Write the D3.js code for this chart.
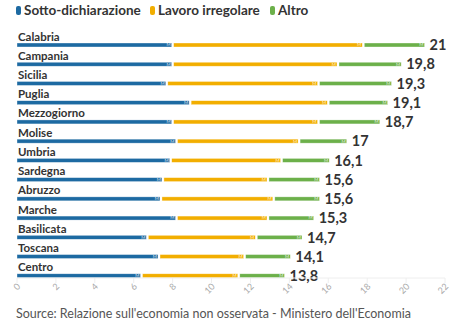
<!DOCTYPE html>
<html>
<head>
<meta charset="utf-8">
<script src="https://cdn.jsdelivr.net/npm/d3@7"></script>
<style>
  body { margin: 0; background: #fff; }
  svg { font-family: Lato, "Noto Sans", sans-serif; }
</style>
</head>
<body>
<div id="chart"></div>
<script>
// Regions, top to bottom
var regions = ['Calabria', 'Campania', 'Sicilia', 'Puglia', 'Mezzogiorno', 'Molise',
    'Umbria', 'Sardegna', 'Abruzzo', 'Marche', 'Basilicata', 'Toscana', 'Centro'];

// Components (% of value added)
var sottoDichiarazione = [8.0, 8.0, 7.7, 8.9, 8.0, 8.2, 7.9, 7.5, 7.4, 8.2, 6.7, 7.3, 6.4];
var lavoroIrregolare   = [9.8, 8.5, 7.8, 7.1, 7.5, 6.3, 5.7, 5.4, 5.8, 4.7, 5.6, 4.4, 5.0];
var altro              = [3.2, 3.3, 3.8, 3.1, 3.2, 2.5, 2.5, 2.7, 2.4, 2.4, 2.4, 2.4, 2.4];

// Totals printed after each bar
var totals = [21, 19.8, 19.3, 19.1, 18.7, 17, 16.1, 15.6, 15.6, 15.3, 14.7, 14.1, 13.8];

var seriesNames = ['Sotto-dichiarazione', 'Lavoro irregolare', 'Altro'];
var seriesColors = ['#1d6aa2', '#f2ae00', '#6cb04a'];
var xTicks = [0, 2, 4, 6, 8, 10, 12, 14, 16, 18, 20, 22];

var width = 471, height = 330;

var svg = d3.select('#chart')
    .append('svg')
    .attr('width', width)
    .attr('height', height);

// Legend
var legendX = [16, 150, 270];
var legend = svg.append('g').attr('class', 'legend');
seriesNames.forEach(function (name, i) {
    legend.append('rect')
        .attr('x', legendX[i])
        .attr('y', 6)
        .attr('width', 5)
        .attr('height', 9)
        .attr('rx', 2)
        .attr('fill', seriesColors[i]);
    legend.append('text')
        .attr('x', legendX[i] + 8)
        .attr('y', 15)
        .attr('font-size', 13.5)
        .attr('font-weight', 700)
        .attr('fill', '#333')
        .text(name);
});

// Scales
var x = d3.scaleLinear().domain([0, 22]).range([17, 445]);
var y = d3.scaleBand().domain(regions).range([35.5, 285.5]);

var fmt = function (v) { return String(v).replace('.', ','); };

// Stacked rows
var rows = svg.append('g').attr('class', 'rows')
    .selectAll('g')
    .data(regions)
    .enter()
    .append('g')
    .attr('transform', function (d) { return 'translate(0,' + y(d) + ')'; });

rows.append('text')
    .attr('x', 18)
    .attr('y', 5)
    .attr('font-size', 11.5)
    .attr('font-weight', 700)
    .attr('fill', '#333')
    .text(function (d) { return d; });

var barY = 7.5, barH = 4;

rows.each(function (d, i) {
    var row = d3.select(this);
    var parts = [sottoDichiarazione[i], lavoroIrregolare[i], altro[i]];
    var start = 0;
    parts.forEach(function (v, k) {
        var end = start + v;
        if (k === parts.length - 1) end = totals[i];
        var x0 = x(start) + (k > 0 ? 1 : 0);
        var x1 = x(end) - 1;
        row.append('rect')
            .attr('x', x0)
            .attr('y', barY)
            .attr('width', x1 - x0)
            .attr('height', barH)
            .attr('fill', seriesColors[k])
            .attr('stroke', '#fff')
            .attr('stroke-opacity', 0.6)
            .attr('stroke-width', 0.6);
        row.append('text')
            .attr('x', x1 - 1)
            .attr('y', barY + barH - 0.6)
            .attr('text-anchor', 'end')
            .attr('font-size', 4.5)
            .attr('fill', '#fff')
            .attr('fill-opacity', 0.85)
            .text('M');
        start = end;
    });
    row.append('text')
        .attr('x', x(totals[i]) + 4)
        .attr('y', barY + barH / 2)
        .attr('dy', '0.36em')
        .attr('font-size', 14.5)
        .attr('font-weight', 700)
        .attr('fill', '#333')
        .text(fmt(totals[i]));
});

// X axis
var axisY = 278;
var axis = svg.append('g').attr('class', 'x-axis');
axis.append('line')
    .attr('x1', x(0)).attr('x2', x(22))
    .attr('y1', axisY).attr('y2', axisY)
    .attr('stroke', '#eee');
var ticks = axis.selectAll('g.tick')
    .data(xTicks)
    .enter()
    .append('g')
    .attr('class', 'tick')
    .attr('transform', function (d) { return 'translate(' + x(d) + ',' + axisY + ')'; });
ticks.append('line')
    .attr('y1', 0).attr('y2', 5)
    .attr('stroke', '#eee');
ticks.append('text')
    .attr('transform', 'translate(4,9) rotate(-45)')
    .attr('text-anchor', 'end')
    .attr('font-size', 9)
    .attr('fill', '#aaa')
    .text(function (d) { return d; });

// Source line
svg.append('text')
    .attr('x', 16)
    .attr('y', 318)
    .attr('font-size', 12.5)
    .attr('fill', '#555')
    .text("Source: Relazione sull'economia non osservata - Ministero dell'Economia");
</script>
</body>
</html>
